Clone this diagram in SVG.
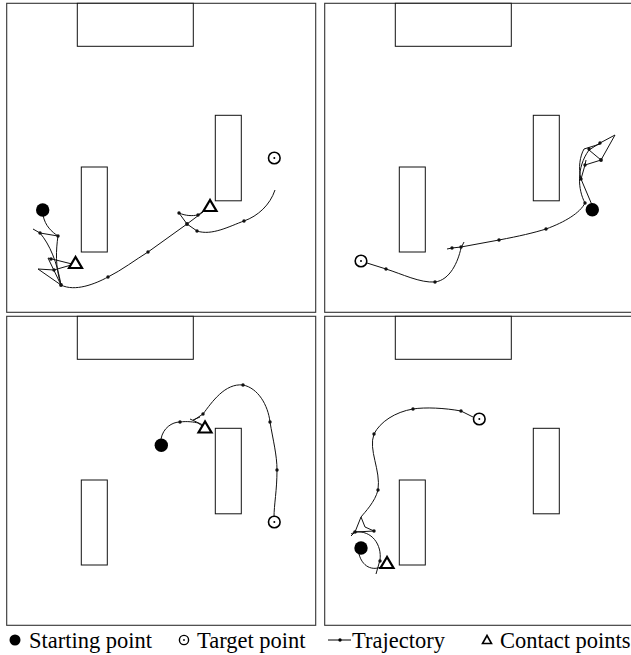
<svg xmlns="http://www.w3.org/2000/svg" xmlns:xlink="http://www.w3.org/1999/xlink" width="631" height="655" viewBox="0 0 631 655">
<style>
.frame{fill:none;stroke:#333;stroke-width:1.1}
.obs{fill:#fff;stroke:#111;stroke-width:1}
.traj{fill:none;stroke:#111;stroke-width:1}
.dot{fill:#111}
.start{fill:#000}
.target{fill:#fff;stroke:#000;stroke-width:1.6}
.tri{fill:#fff;stroke:#000;stroke-width:2.2;stroke-linejoin:miter}
.lg{font-family:"Liberation Serif","Times New Roman",serif;font-size:22.5px;fill:#000}
</style>
<defs>
<g id="room">
<rect class="frame" x="6.7" y="3.3" width="309" height="309"/>
<rect class="obs" x="77.3" y="3.3" width="116" height="43"/>
<rect class="obs" x="81.3" y="167" width="26" height="85"/>
<rect class="obs" x="215.3" y="115.3" width="26" height="85.5"/>
</g>
<g id="tgt"><circle class="target" cx="0" cy="0" r="5.8"/><circle cx="0" cy="0" r="1" fill="#000"/></g>
<polygon id="tri" class="tri" points="0,-6 -6.5,5 6.5,5"/>
</defs>

<g id="panel1">
<use xlink:href="#room"/>
<g class="traj">
<path d="M43,215 C45,226 52,232 58,236 L40,233 L33,229"/>
<path d="M40,233 C50,245 57,262 61,285"/>
<path d="M58,236 C56,250 55,266 61,285"/>
<path d="M48,258 L80,266 M38,269 L54,270 L78,263"/>
<path d="M48,258 L61,285 M38,269 L61,285"/>
<path d="M61,285 C75,292 95,284 108,277 C122,270 135,260 148,252 L187,224 L203,212"/>
<path d="M179,213 C186,216 192,216 198,215 L205,210 M179,213 L187,224 L197,231"/>
<path d="M197,231 C212,236 230,226 244,221 C258,216 270,205 275,190"/>
</g>
<g class="dot">
<circle cx="58" cy="236" r="1.7"/><circle cx="40" cy="233" r="1.7"/><circle cx="51" cy="259" r="1.7"/><circle cx="54" cy="270" r="1.7"/><circle cx="61" cy="285" r="1.9"/><circle cx="108" cy="277" r="1.7"/><circle cx="148" cy="252" r="1.7"/><circle cx="187" cy="224" r="1.9"/><circle cx="179" cy="213" r="1.7"/><circle cx="198" cy="215" r="1.7"/><circle cx="197" cy="231" r="1.7"/><circle cx="244" cy="221" r="1.7"/>
</g>
<circle class="start" cx="42.7" cy="210" r="6.7"/>
<use xlink:href="#tgt" x="274.3" y="158"/>
<use xlink:href="#tri" x="75.5" y="263"/>
<use xlink:href="#tri" x="210" y="206"/>
</g>

<g id="panel2">
<use xlink:href="#room" x="318"/>
<g class="traj">
<path d="M367,263 L386,269 C402,274 420,283 435,282 C450,280 458,262 461,248 L464,242"/>
<path d="M447,249 L452,248 L461,247 L499,240 C520,236 533,233 546,229 C565,222 580,213 585,203 C578,190 576,168 589,150 L600,143 L615,135 L601,160 L589,150"/>
<path d="M592,205 L581,179 L585,165 L601,160 M585,165 L586,160"/>
<path d="M581,179 C578,168 580,156 584,149 L600,144"/>
</g>
<g class="dot">
<circle cx="386" cy="269" r="1.7"/><circle cx="435" cy="282" r="1.7"/><circle cx="452" cy="248" r="1.7"/><circle cx="461" cy="247" r="1.7"/><circle cx="499" cy="240" r="1.7"/><circle cx="546" cy="229" r="1.7"/><circle cx="585" cy="203" r="1.7"/><circle cx="581" cy="179" r="1.7"/><circle cx="585" cy="165" r="1.7"/><circle cx="601" cy="160" r="1.9"/><circle cx="589" cy="149" r="1.7"/><circle cx="600" cy="143" r="1.7"/>
</g>
<circle class="start" cx="592.3" cy="209.7" r="6.7"/>
<use xlink:href="#tgt" x="361" y="261"/>
</g>

<g id="panel3">
<use xlink:href="#room" y="313"/>
<g class="traj">
<path d="M161,439 C163,428 172,422 180,422 C187,421 194,422 198,423 L205,428"/>
<path d="M190,419 L203,425 M193,420 L200,417"/>
<path d="M194,420 C197,418 200,416 203,414 C212,402 225,383 243,385 C258,388 268,405 270,422 C273,440 277,455 277,470 C277,490 274,505 274,517"/>
</g>
<g class="dot">
<circle cx="180" cy="422" r="1.7"/><circle cx="203" cy="414" r="1.7"/><circle cx="243" cy="385" r="1.7"/><circle cx="270" cy="422" r="1.7"/><circle cx="277" cy="470" r="1.7"/>
</g>
<circle class="start" cx="161.3" cy="445.3" r="6.7"/>
<use xlink:href="#tgt" x="274.3" y="522"/>
<use xlink:href="#tri" x="205" y="427.5"/>
</g>

<g id="panel4">
<use xlink:href="#room" x="318" y="313"/>
<g class="traj">
<path d="M473,417 L461,411 C445,408 425,407 413,409 C395,412 380,422 374,434 C368,450 381,470 378,490 C375,502 365,512 361,517 L355,532 L351,536"/>
<path d="M361,517 L365,527 L374,531 L355,532 L351,534"/>
<path d="M355,532 C372,530 382,545 380,560 L376,574"/>
<path d="M359,554 C362,566 372,572 383,566"/>
</g>
<g class="dot">
<circle cx="461" cy="411" r="1.7"/><circle cx="413" cy="409" r="1.7"/><circle cx="374" cy="434" r="1.7"/><circle cx="378" cy="490" r="1.7"/><circle cx="355" cy="532" r="1.8"/><circle cx="374" cy="531" r="1.7"/><circle cx="380" cy="561" r="1.7"/>
</g>
<circle class="start" cx="361" cy="548" r="6.7"/>
<use xlink:href="#tgt" x="479.3" y="419"/>
<use xlink:href="#tri" x="387" y="563"/>
</g>

<g id="legend">
<circle cx="15" cy="640" r="5.5" fill="#000"/>
<text class="lg" x="29" y="648">Starting point</text>
<circle cx="184" cy="640" r="4.6" fill="#fff" stroke="#000" stroke-width="1.4"/>
<circle cx="184" cy="640" r="0.9" fill="#000"/>
<text class="lg" x="197" y="648">Target point</text>
<line x1="328" y1="640" x2="351" y2="640" stroke="#000" stroke-width="1"/>
<circle cx="340" cy="640" r="1.7" fill="#000"/>
<text class="lg" x="352" y="648">Trajectory</text>
<polygon points="487,635.5 482.5,643.5 491.5,643.5" fill="#fff" stroke="#000" stroke-width="1.6"/>
<text class="lg" x="500" y="648">Contact points</text>
</g>
</svg>
